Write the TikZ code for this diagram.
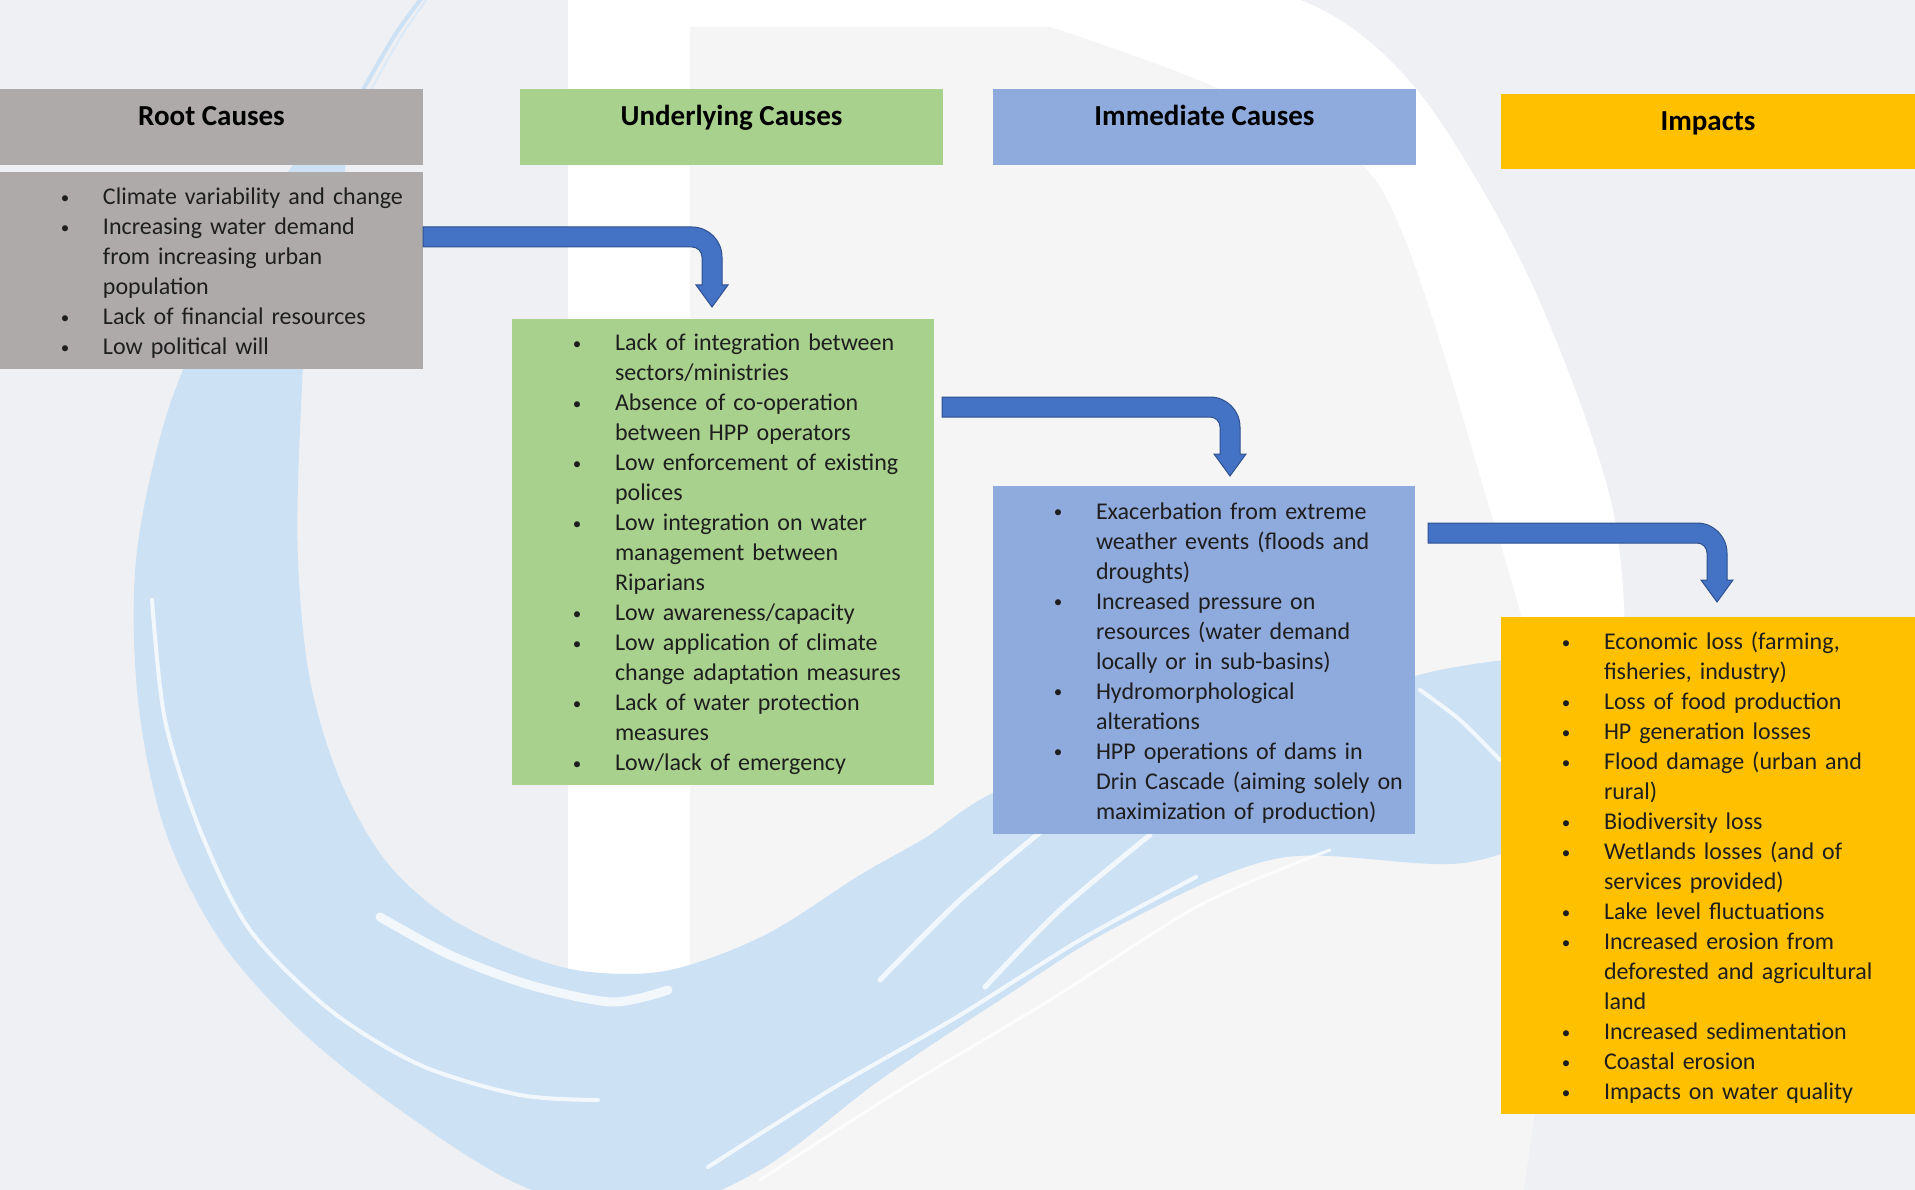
\documentclass[tikz,border=0pt]{standalone}
\usepackage{fontspec}
\setmainfont{Carlito}
\usetikzlibrary{calc}

\definecolor{bg}{HTML}{EEF0F3}
\definecolor{counter}{HTML}{F5F5F6}
\definecolor{swirl}{HTML}{CDE1F5}
\definecolor{rootc}{HTML}{AEAAAA}
\definecolor{undc}{HTML}{A9D18E}
\definecolor{immc}{HTML}{8FAADC}
\definecolor{impc}{HTML}{FFC000}
\definecolor{arrowfill}{HTML}{4472C4}
\definecolor{arrowline}{HTML}{2F528F}
\definecolor{bodytext}{HTML}{1E1E1E}

% bullet item: small bullet centred 38pt left of the text column
\newcommand\itm[1]{\par\noindent\llap{\makebox[0pt]{\raisebox{1.5pt}{\fontsize{17}{17}\selectfont\textbullet}}\hspace{38pt}}#1}
\newcommand\listsetup{\leftskip=103pt\relax\parskip=0pt\relax}
\newcommand\listend{\par\vspace*{8pt}}

% bent block arrow from a shaft start (left end, centre line) to a tip
\newcommand\bentarrow[2]{%
  \path[bentarrowstyle] let \p1=(#1), \p2=(#2) in
    (\x1,\y1+10pt) -- (\x2-20pt,\y1+10pt)
    arc[start angle=90, end angle=0, radius=30pt]
    -- (\x2+10pt,\y2+22pt) -- (\x2+16pt,\y2+22pt) -- (\x2,\y2)
    -- (\x2-16pt,\y2+22pt) -- (\x2-10pt,\y2+22pt) -- (\x2-10pt,\y1-20pt)
    arc[start angle=0, end angle=90, radius=10pt]
    -- (\x1,\y1-10pt) -- cycle;}

\tikzset{
  headbox/.style={rectangle, inner xsep=0pt, inner ysep=0pt, outer sep=0pt,
    minimum width=423pt, text height=37pt, text depth=39pt,
    font=\fontsize{29}{34}\selectfont\bfseries, anchor=north west, text=black},
  bodybox/.style={rectangle, inner sep=0pt, outer sep=0pt, text width=#1,
    align=left, anchor=north west, font=\fontsize{24}{30}\selectfont, text=bodytext},
  bentarrowstyle/.style={fill=arrowfill, draw=arrowline, line width=1pt, line join=miter},
  streak/.style={draw=white, line cap=round, opacity=0.75},
}

\begin{document}
\begin{tikzpicture}[x=1pt, y=1pt]
\useasboundingbox (0,0) rectangle (1915,-1190);

% ---------- background ----------
\begin{scope}
  \clip (0,0) rectangle (1915,-1190);
  \fill[bg] (0,0) rectangle (1915,-1190);
  \begin{scope}[yscale=-1]
    % large white letter shape
    \fill[white] (568,-25) -- plot[smooth] coordinates {(1100,-25) (1300,0) (1417,90) (1530,280) (1615,520) (1620,760) (1560,950) (1490,1215)} -- (568,1215) -- cycle;
    \fill[counter] (690,27) -- plot[smooth] coordinates {(1050,27) (1221,90) (1380,187) (1493,520) (1540,700) (1560,900) (1520,1215)} -- (690,1215) -- cycle;
    % light blue brush swirl
    \fill[swirl] plot[smooth cycle, tension=0.55] coordinates {
      (330,120) (270,200) (210,310) (165,420) (136,560)
      (138,700) (165,830) (220,940) (300,1030) (400,1110) (520,1185)
      (640,1215) (760,1170) (880,1080) (1000,1000) (1120,925) (1280,858)
      (1470,862) (1600,800) (1650,700) (1560,660) (1450,668) (1330,700)
      (1150,745) (1000,790) (925,838) (860,875) (765,935) (670,970)
      (590,972) (525,955) (445,915) (385,860) (340,780) (310,680)
      (298,560) (300,430) (310,300) (345,170)};
    % thin tail of the brush stroke at the top
    \draw[swirl, line width=4pt, line cap=round] plot[smooth] coordinates {(424,-5) (395,35) (360,95) (340,130)};
    \draw[swirl!70!white, line width=2pt] plot[smooth] coordinates {(430,-5) (402,35) (368,95)};
    % brush streaks
    \draw[streak, line width=9pt] plot[smooth] coordinates {(380,917) (450,955) (530,985) (612,1002) (668,990)};
    \draw[streak, line width=4pt] plot[smooth] coordinates {(152,600) (165,720) (200,830) (250,930) (330,1010) (420,1065) (520,1095) (598,1100)};
    \draw[streak, line width=4pt] plot[smooth] coordinates {(708,1167) (830,1090) (957,1017) (1080,940) (1196,877)};
    \draw[streak, line width=5pt] plot[smooth] coordinates {(880,980) (960,900) (1043,830)};
    \draw[streak, line width=5pt] plot[smooth] coordinates {(985,987) (1060,910) (1150,835)};
    \draw[streak, line width=3pt] plot[smooth] coordinates {(760,1180) (900,1090) (1050,1000) (1200,905) (1330,850)};
    \draw[streak, line width=4pt] plot[smooth] coordinates {(1420,690) (1460,720) (1500,760)};
  \end{scope}
\end{scope}

% ---------- column headers ----------
\node[headbox, fill=rootc] (roothead) at (0,-89) {Root Causes};
\node[headbox, fill=undc] (undhead) at (520,-89) {Underlying Causes};
\node[headbox, fill=immc] (immhead) at (993,-89) {Immediate Causes};
\node[headbox, fill=impc, minimum width=414pt, text depth=38pt] (imphead) at (1501,-94) {Impacts};

% ---------- column bodies ----------
\node[bodybox=423pt, fill=rootc, minimum height=197pt] (rootbody) at (0,-172) {\listsetup
  \itm{Climate variability and change}
  \itm{Increasing water demand\\from increasing urban\\population}
  \itm{Lack of financial resources}
  \itm{Low political will}\listend};

\node[bodybox=422pt, fill=undc, minimum height=466pt] (undbody) at (512,-319) {\listsetup
  \itm{Lack of integration between\\sectors/ministries}
  \itm{Absence of co-operation\\between HPP operators}
  \itm{Low enforcement of existing\\polices}
  \itm{Low integration on water\\management between\\Riparians}
  \itm{Low awareness/capacity}
  \itm{Low application of climate\\change adaptation measures}
  \itm{Lack of water protection\\measures}
  \itm{Low/lack of emergency}\listend};

\node[bodybox=422pt, fill=immc, minimum height=348pt] (immbody) at (993,-486) {\listsetup
  \itm{Exacerbation from extreme\\weather events (floods and\\droughts)}
  \itm{Increased pressure on\\resources (water demand\\locally or in sub-basins)}
  \itm{Hydromorphological\\alterations}
  \itm{HPP operations of dams in\\Drin Cascade (aiming solely on\\maximization of production)}\listend};

\node[bodybox=414pt, fill=impc, minimum height=497pt] (impbody) at (1501,-617) {\listsetup
  \itm{Economic loss (farming,\\fisheries, industry)}
  \itm{Loss of food production}
  \itm{HP generation losses}
  \itm{Flood damage (urban and\\rural)}
  \itm{Biodiversity loss}
  \itm{Wetlands losses (and of\\services provided)}
  \itm{Lake level fluctuations}
  \itm{Increased erosion from\\deforested and agricultural\\land}
  \itm{Increased sedimentation}
  \itm{Coastal erosion}
  \itm{Impacts on water quality}\listend};

% ---------- connectors ----------
\coordinate (a1s) at ($(rootbody.north east)+(0,-65)$);
\coordinate (a1t) at ($(undbody.north west)+(200,12)$);
\coordinate (a2s) at ($(undbody.north east)+(8,-88)$);
\coordinate (a2t) at ($(immbody.north west)+(237,10)$);
\coordinate (a3s) at ($(immbody.north east)+(13,-47)$);
\coordinate (a3t) at ($(impbody.north west)+(216,15)$);
\bentarrow{a1s}{a1t}
\bentarrow{a2s}{a2t}
\bentarrow{a3s}{a3t}
\end{tikzpicture}
\end{document}
